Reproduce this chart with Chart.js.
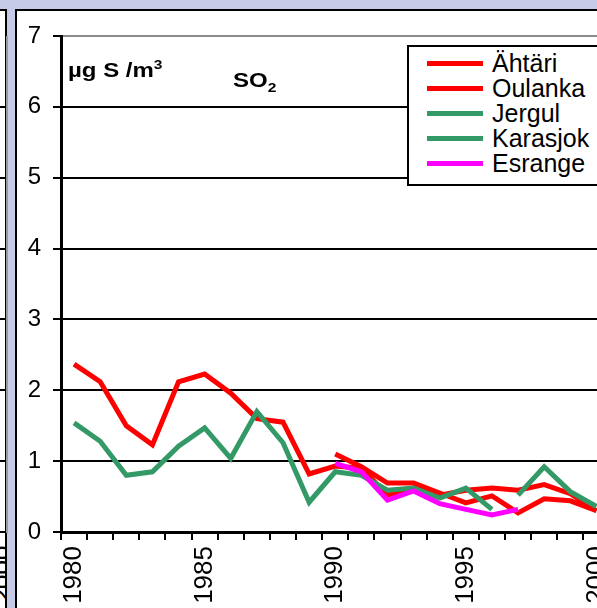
<!DOCTYPE html>
<html>
<head>
<meta charset="utf-8">
<script src="https://cdn.jsdelivr.net/npm/chart.js@4/dist/chart.umd.min.js"></script>
<style>
  html, body { margin: 0; padding: 0; }
  body {
    width: 597px; height: 608px; overflow: hidden; position: relative;
    background: rgb(197, 203, 230);
    font-family: Arial, "Liberation Sans", sans-serif;
  }
  /* edge of the neighbouring panel on the left */
  #prev { position: absolute; left: -20px; top: 9px; width: 25px; height: 700px;
          background: #fff; border: 2px solid #000; border-left: none; }
  #prevPlot { position: absolute; left: 6px; top: 36px; width: 2px; height: 497px; background: #9a9a9a; }
  .prevTick { position: absolute; left: 0; width: 5px; height: 2px; background: #000; }
  #prevLabel { position: absolute; width: 60px; font-size: 26px;
               transform: rotate(-90deg); transform-origin: 50% 50%; text-align: right; }
  #prevClip { position: absolute; left: 0; top: 540px; width: 5px; height: 68px; overflow: hidden; }
  #panel { position: absolute; left: 15px; top: 9px; width: 700px; height: 700px;
           background: #fff; border: 2px solid #000; }
  #wrap { position: absolute; left: 17px; top: 11px; width: 620px; height: 597px; }
  .title { position: absolute; font-weight: bold; font-size: 20px; white-space: nowrap;
           transform-origin: 0 0; transform: scaleX(1.2); }
  .title sup, .title sub { font-size: 13px; }
  #legend { position: absolute; left: 407px; top: 45px; width: 240px; height: 137px;
            background: #fff; border: 2px solid #000; }
  .item { position: absolute; left: 0; height: 25px; white-space: nowrap; }
  .swatch { position: absolute; left: 18px; top: 10px; width: 56px; height: 5px; }
  .lbl { position: absolute; left: 83px; top: -2px; font-size: 25px; line-height: 28px; }
</style>
</head>
<body>
<div id="prev"></div>
<div id="prevPlot"></div>
<div id="prevClip"><div id="prevLabel" style="left:-28px;top:20px;">2000</div></div>
<div id="panel"></div>
<div id="wrap"><canvas id="c" width="620" height="597"></canvas></div>
<div class="title" style="left:68px; top:57px;">µg S /m<sup>3</sup></div>
<div class="title" style="left:233px; top:69px;">SO<sub>2</sub></div>
<div id="legend"></div>
<script>
// Annual mean SO2 concentrations (µg S/m3) at background stations
const years = [1980, 1981, 1982, 1983, 1984, 1985, 1986, 1987, 1988, 1989,
               1990, 1991, 1992, 1993, 1994, 1995, 1996, 1997, 1998, 1999, 2000];

const ahtari   = [2.37, 2.12, 1.50, 1.23, 2.12, 2.23, 1.96, 1.60, 1.55, 0.82,
                  0.93, 0.90, 0.52, 0.62, 0.52, 0.59, 0.62, 0.59, 0.67, 0.54, 0.30];
const oulanka  = [null, null, null, null, null, null, null, null, null, null,
                  1.10, 0.92, 0.69, 0.69, 0.55, 0.41, 0.51, 0.27, 0.47, 0.44, 0.30];
const jergul   = [1.54, 1.28, 0.80, 0.85, 1.21, 1.47, 1.04, 1.70, 1.26, 0.42,
                  0.85, 0.80, 0.59, 0.62, 0.48, 0.62, 0.32, null, null, null, null];
const karasjok = [null, null, null, null, null, null, null, null, null, null,
                  null, null, null, null, null, null, null, 0.52, 0.92, 0.57, 0.36];
const esrange  = [null, null, null, null, null, null, null, null, null, null,
                  0.97, 0.85, 0.45, 0.58, 0.40, 0.32, 0.24, 0.32, null, null, null];

const yTicks = [0, 1, 2, 3, 4, 5, 6, 7];

const seriesNames  = ['Ähtäri', 'Oulanka', 'Jergul', 'Karasjok', 'Esrange'];
const seriesData   = [ahtari, oulanka, jergul, karasjok, esrange];
const seriesColors = ['#ff0000', '#ff0000', '#339966', '#339966', '#ff00ff'];
const drawOrder    = [4, 3, 2, 1, 0]; // lower order is painted on top

// neighbouring panel grid stubs
yTicks.slice(0, 7).forEach(v => {
  const t = document.createElement('div');
  t.className = 'prevTick';
  t.style.top = (531 - v * 70.86) + 'px';
  document.body.appendChild(t);
});

// legend
const legend = document.getElementById('legend');
seriesNames.forEach((name, i) => {
  const it = document.createElement('div');
  it.className = 'item';
  it.style.top = (4 + i * 25) + 'px';
  it.innerHTML = '<div class="swatch" style="background:' + seriesColors[i] + '"></div>' +
                 '<div class="lbl">' + name + '</div>';
  legend.appendChild(it);
});

const datasets = seriesNames.map((name, i) => ({
  label: name,
  data: seriesData[i],
  borderColor: seriesColors[i],
  backgroundColor: seriesColors[i],
  borderWidth: 5,
  pointRadius: 0,
  tension: 0,
  fill: false,
  order: drawOrder[i]
}));

new Chart(document.getElementById('c'), {
  type: 'line',
  data: { labels: years.map(String), datasets },
  options: {
    responsive: false,
    animation: false,
    layout: { padding: { top: 25, left: 0, right: 27.5, bottom: 0 } },
    plugins: { legend: { display: false }, tooltip: { enabled: false } },
    scales: {
      x: {
        type: 'category',
        offset: true,
        grid: { display: true, drawOnChartArea: false, drawTicks: true, tickLength: 8,
                offset: true, color: '#000', lineWidth: 2 },
        border: { display: true, color: '#000', width: 3 },
        ticks: {
          autoSkip: false, minRotation: 90, maxRotation: 90, padding: 6,
          color: '#000', font: { family: 'Arial, "Liberation Sans"', size: 26 },
          callback: (v, i) => (years[i] % 5 === 0 ? String(years[i]) : '')
        },
        afterFit: s => { s.height = 76; s.paddingLeft = 0; s.paddingRight = 0; }
      },
      y: {
        min: 0, max: 7,
        afterBuildTicks: s => { s.ticks = yTicks.map(v => ({ value: v })); },
        grid: {
          color: c => (c.tick && c.tick.value === 7 ? '#8c8c8c' : '#000'),
          tickColor: '#000', lineWidth: 2, tickLength: 8, drawTicks: true
        },
        border: { display: true, color: '#000', width: 3 },
        ticks: { color: '#000', padding: 12, font: { family: 'Arial, "Liberation Sans"', size: 24 } },
        afterFit: s => { s.width = 44; s.paddingTop = 0; s.paddingBottom = 0; }
      }
    }
  }
});
</script>
</body>
</html>
